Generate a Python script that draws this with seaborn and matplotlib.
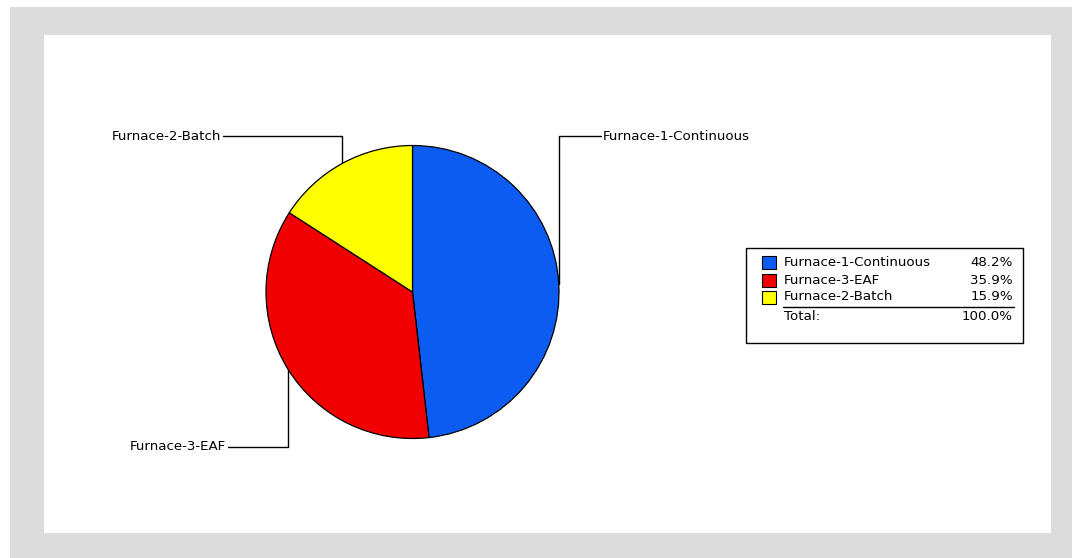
import numpy as np
import matplotlib
matplotlib.use("Agg")
import matplotlib.pyplot as plt
from matplotlib.patches import Rectangle
import seaborn as sns

# data
furnaces = ["Furnace-1-Continuous", "Furnace-3-EAF", "Furnace-2-Batch"]
shares = [48.2, 35.9, 15.9]
colors = ["#0c5cf2", "#f00000", "#ffff00"]

sns.set_style("white")
plt.rcParams["font.family"] = ["DejaVu Sans"]
plt.rcParams["text.color"] = "black"
FS = 9.6

W, H = 1075, 558
fig = plt.figure(figsize=(W / 100, H / 100), dpi=100)

# background in pixel coordinates
bg = fig.add_axes([0, 0, 1, 1])
bg.set_xlim(0, W)
bg.set_ylim(H, 0)
bg.axis("off")
bg.add_patch(Rectangle((10, 7), 1062, 560, color="#dcdcdc", lw=0))
bg.add_patch(Rectangle((44, 35), 1007, 498, color="white", lw=0))

# pie centre / radius in pixels
CX, CY, R = 412.5, 292, 146.5
pie_ax = fig.add_axes([(CX - R) / W, (H - CY - R) / H, 2 * R / W, 2 * R / H])
wedges, _ = pie_ax.pie(shares, colors=colors, startangle=90, counterclock=False,
                       wedgeprops=dict(edgecolor="black", linewidth=0.9))
pie_ax.set_xlim(-1, 1)
pie_ax.set_ylim(-1, 1)
pie_ax.set_aspect("equal")

# leader lines: vertical from wedge middle to a level, then horizontal to label
levels = {"Furnace-1-Continuous": (136, 42), "Furnace-3-EAF": (447, -60),
          "Furnace-2-Batch": (136, -119)}
for w, name in zip(wedges, furnaces):
    mid = np.deg2rad((w.theta1 + w.theta2) / 2)
    x0 = CX + R * np.cos(mid)
    y0 = CY - R * np.sin(mid)
    ly, dx = levels[name]
    x1 = x0 + dx
    bg.plot([x0, x0, x1], [y0, ly, ly], color="black", lw=1)
    if dx > 0:
        bg.text(x1 + 2, ly, name, fontsize=FS, va="center", ha="left")
    else:
        bg.text(x1 - 2, ly, name, fontsize=FS, va="center", ha="right")

# legend table
bg.add_patch(Rectangle((746, 248), 277, 95, fill=False, ec="black", lw=1))
total = sum(shares)
ys = [262, 280, 297]
for y, name, v, c in zip(ys, furnaces, shares, colors):
    bg.add_patch(Rectangle((762, y - 6), 14, 13, fc=c, ec="black", lw=0.8))
    bg.text(784, y, name, fontsize=FS, va="center", ha="left")
    bg.text(1013, y, f"{v / total * 100:.1f}%", fontsize=FS, va="center", ha="right")
bg.plot([783, 1014], [307, 307], color="black", lw=1)
bg.text(784, 316, "Total:", fontsize=FS, va="center", ha="left")
bg.text(1013, 316, f"{total:.1f}%", fontsize=FS, va="center", ha="right")

fig.savefig("out.png", dpi=100)
